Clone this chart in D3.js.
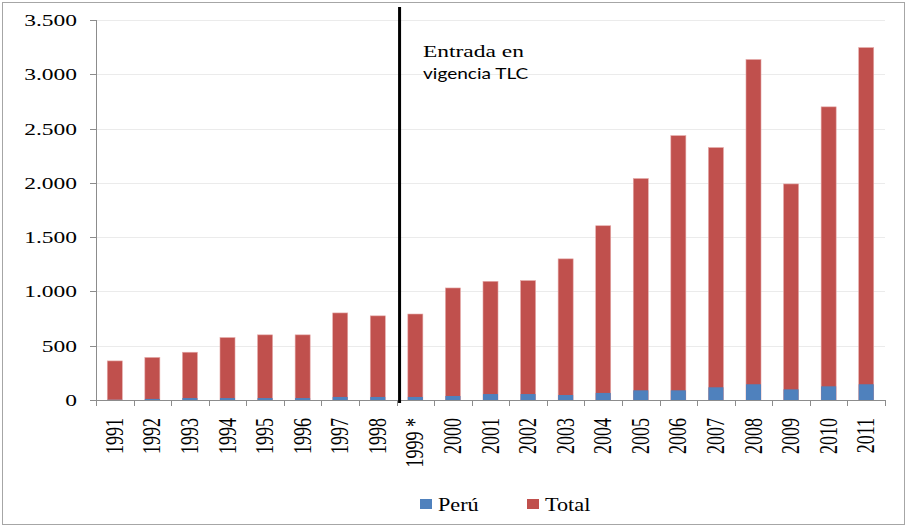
<!DOCTYPE html>
<html>
<head>
<meta charset="utf-8">
<script src="https://cdn.jsdelivr.net/npm/d3@7"></script>
<style>
  body { margin: 0; background: #fff; }
  svg text { font-family: "Liberation Serif", "Times New Roman", serif; fill: #000; }
</style>
</head>
<body>
<svg id="chart" width="907" height="527"></svg>
<script>
// data
var years = ["1991","1992","1993","1994","1995","1996","1997","1998","1999 *","2000",
             "2001","2002","2003","2004","2005","2006","2007","2008","2009","2010","2011"];
var peru  = [2, 10, 18, 18, 18, 18, 28, 28, 28, 37, 55, 55, 46, 65, 89, 89, 117, 145, 98, 126, 145];
var total = [360, 392, 440, 575, 600, 600, 802, 775, 792, 1032, 1093, 1100, 1300, 1605, 2040, 2435, 2325, 3136, 1990, 2700, 3246];
var yTicks = [0, 500, 1000, 1500, 2000, 2500, 3000, 3500];
var legendItems = ["Perú", "Total"];
var colors = {"Perú": "#4F81BD", "Total": "#C0504D"};

var stretch = 1.38; // glyphs in the original are drawn wider than normal

var svg = d3.select("#chart");
var plotLeft = 96, plotRight = 885, plotTop = 20, plotBottom = 400;

// outer frame
svg.append("rect")
    .attr("x", 2.5).attr("y", 2.5)
    .attr("width", 902).attr("height", 522)
    .attr("fill", "none").attr("stroke", "#a6a6a6");

var x = d3.scaleBand().domain(years).range([plotLeft, plotRight]).paddingInner(0.6).paddingOuter(0.3);
var xEdge = d3.scaleBand().domain(years).range([plotLeft, plotRight]);
var y = d3.scaleLinear().domain([0, 3500]).range([plotBottom, plotTop]);

var fmt = d3.formatLocale({decimal: ",", thousands: ".", grouping: [3], currency: ["", ""]}).format(",");

// gridlines
svg.append("g").selectAll("line")
    .data(yTicks.filter(function (d) { return d > 0; }))
    .enter().append("line")
    .attr("x1", plotLeft).attr("x2", plotRight)
    .attr("y1", function (d) { return Math.round(y(d)) + 0.5; })
    .attr("y2", function (d) { return Math.round(y(d)) + 0.5; })
    .attr("stroke", "#ebebeb");

// y tick labels + ticks
var yg = svg.append("g");
yg.selectAll("text").data(yTicks).enter().append("text")
    .attr("transform", function (d) { return "translate(77," + (y(d) + 6) + ") scale(" + stretch + ",1)"; })
    .attr("text-anchor", "end")
    .style("font-size", "17px")
    .text(fmt);
yg.selectAll("line").data(yTicks).enter().append("line")
    .attr("x1", plotLeft - 6).attr("x2", plotLeft)
    .attr("y1", function (d) { return Math.round(y(d)) + 0.5; })
    .attr("y2", function (d) { return Math.round(y(d)) + 0.5; })
    .attr("stroke", "#8c8c8c");
yg.append("line")
    .attr("x1", plotLeft + 0.5).attr("x2", plotLeft + 0.5)
    .attr("y1", plotTop).attr("y2", plotBottom)
    .attr("stroke", "#8c8c8c");

// bars: total first, Perú drawn over it from the baseline
var bars = svg.append("g");
bars.selectAll("rect.total").data(years).enter().append("rect")
    .attr("class", "total")
    .attr("x", function (d) { return x(d); })
    .attr("width", x.bandwidth())
    .attr("y", function (d, i) { return y(total[i]); })
    .attr("height", function (d, i) { return plotBottom - y(total[i]); })
    .attr("fill", colors["Total"])
    .attr("stroke", "#e5a9a8").attr("stroke-width", 0.6);
bars.selectAll("rect.peru").data(years).enter().append("rect")
    .attr("class", "peru")
    .attr("x", function (d) { return x(d); })
    .attr("width", x.bandwidth())
    .attr("y", function (d, i) { return y(peru[i]); })
    .attr("height", function (d, i) { return plotBottom - y(peru[i]); })
    .attr("fill", colors["Perú"]);

// x axis line and ticks at band edges
var xg = svg.append("g");
xg.append("line")
    .attr("x1", plotLeft).attr("x2", plotRight)
    .attr("y1", plotBottom + 0.5).attr("y2", plotBottom + 0.5)
    .attr("stroke", "#8c8c8c");
var edges = years.map(function (d) { return xEdge(d); }).concat([plotRight]);
xg.selectAll("line.tick").data(edges).enter().append("line")
    .attr("class", "tick")
    .attr("x1", function (d) { return Math.round(d) + 0.5; })
    .attr("x2", function (d) { return Math.round(d) + 0.5; })
    .attr("y1", plotBottom).attr("y2", plotBottom + 6)
    .attr("stroke", "#8c8c8c");
xg.selectAll("text").data(years).enter().append("text")
    .attr("transform", function (d) {
        return "translate(" + (x(d) + x.bandwidth() / 2 + 8) + ",418) scale(" + stretch + ",1) rotate(-90)";
    })
    .attr("text-anchor", "end")
    .style("font-size", "18px")
    .text(function (d) { return d; });

// TLC marker line
var tlcX = xEdge("1999 *") + 3;
svg.append("line")
    .attr("x1", tlcX).attr("x2", tlcX)
    .attr("y1", 7).attr("y2", 403)
    .attr("stroke", "#000").attr("stroke-width", 3);

svg.append("text")
    .attr("transform", "translate(423,57) scale(" + stretch + ",1)")
    .style("font-size", "17px")
    .text("Entrada en");
svg.append("text")
    .attr("transform", "translate(423,79) scale(1.19,1)")
    .style("font-family", "Lato, sans-serif")
    .style("font-size", "16px")
    .text("vigencia TLC");

// legend
var legendX = [420, 527];
var lg = svg.append("g").selectAll("g").data(legendItems).enter().append("g")
    .attr("transform", function (d, i) { return "translate(" + legendX[i] + ",499)"; });
lg.append("rect").attr("width", 12).attr("height", 10)
    .attr("fill", function (d) { return colors[d]; });
lg.append("text")
    .attr("transform", "translate(18,12) scale(1.17,1)")
    .style("font-size", "19px")
    .text(function (d) { return d; });
</script>
</body>
</html>
